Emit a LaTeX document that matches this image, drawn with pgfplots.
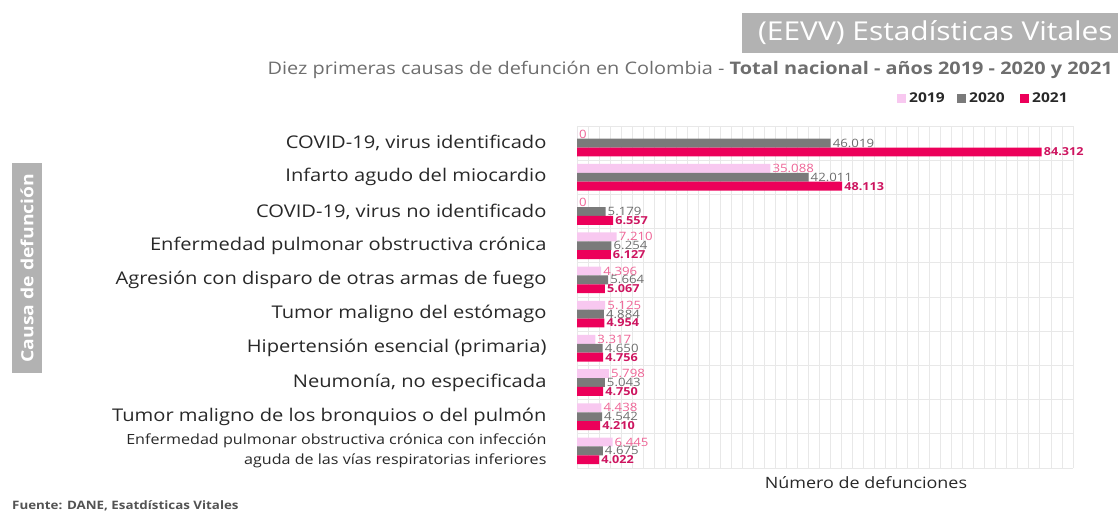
\documentclass[border=0pt]{standalone}
\usepackage{fontspec}
\setmainfont{Open Sans}[FakeStretch=1.15]
\usepackage{pgfplots}
\pgfplotsset{compat=1.18}
\definecolor{c19}{RGB}{248,200,240}
\definecolor{c20}{RGB}{122,122,122}
\definecolor{c21}{RGB}{236,0,90}
\definecolor{l19}{RGB}{238,100,150}
\definecolor{l20}{RGB}{110,110,110}
\definecolor{l21}{RGB}{205,20,95}
\definecolor{gridc}{RGB}{232,232,232}
\definecolor{boxc}{RGB}{178,178,178}
\definecolor{txt}{RGB}{40,40,40}
\definecolor{subc}{RGB}{110,110,110}
\begin{document}
\begin{tikzpicture}
\useasboundingbox (0,0) rectangle (1118pt,513pt);
\begin{axis}[
  at={(577pt,45pt)}, anchor=south west,
  width=496pt, height=342pt, scale only axis,
  xbar, bar width=0.26,
  xmin=0, xmax=90000, ymin=-0.5, ymax=9.5, y dir=reverse,
  axis line style={draw=none},
  scaled x ticks=false,
  xtick={0,2000,...,90000}, xticklabels={},
  xmajorgrids,
  ytick={0,...,9},
  yticklabels={
    {COVID-19, virus identificado},
    {Infarto agudo del miocardio},
    {COVID-19, virus no identificado},
    {Enfermedad pulmonar obstructiva crónica},
    {Agresión con disparo de otras armas de fuego},
    {Tumor maligno del estómago},
    {Hipertensión esencial (primaria)},
    {Neumonía, no especificada},
    {Tumor maligno de los bronquios o del pulmón},
    {\fontsize{14}{20}\selectfont Enfermedad pulmonar obstructiva crónica con infección\\\fontsize{14}{20}\selectfont aguda de las vías respiratorias inferiores}
  },
  yticklabel style={font=\fontsize{17.5}{20}\selectfont, text=txt, align=right, xshift=-27pt},
  extra y ticks={-0.5,0.5,...,9.5}, extra y tick labels={},
  extra y tick style={grid=major},
  major tick length=0,
  grid style={gridc, line width=0.9pt},
  point meta=x,
  nodes near coords={\pgfmathprintnumber[fixed, precision=0, 1000 sep={.}, assume math mode=true]{\pgfplotspointmeta}},
  every node near coord/.append style={anchor=west, inner xsep=2pt, font=\fontsize{11.5}{12}\selectfont},
]
\addplot+[draw=none, fill=c19, bar shift=-0.26, every node near coord/.append style={text=l19}]
  coordinates {(0,0) (35088,1) (0,2) (7210,3) (4396,4) (5125,5) (3317,6) (5798,7) (4438,8) (6445,9)};
\addplot+[draw=none, fill=c20, bar shift=0, every node near coord/.append style={text=l20}]
  coordinates {(46019,0) (42011,1) (5179,2) (6254,3) (5664,4) (4884,5) (4650,6) (5043,7) (4542,8) (4675,9)};
\addplot+[draw=none, fill=c21, bar shift=0.26, every node near coord/.append style={text=l21, font=\fontsize{11}{12}\selectfont\bfseries}]
  coordinates {(84312,0) (48113,1) (6557,2) (6127,3) (5067,4) (4954,5) (4756,6) (4750,7) (4210,8) (4022,9)};
\end{axis}
% title box
\fill[boxc] (742pt,500pt) rectangle (1118pt,460pt);
\node[anchor=east, text=white, font=\fontsize{26}{30}\selectfont, inner sep=0pt] at (1113pt,480pt) {(EEVV) Estadísticas Vitales};
% subtitle
\node[anchor=east, text=subc, font=\fontsize{17.3}{20}\selectfont, inner sep=0pt] at (1113pt,443pt) {Diez primeras causas de defunción en Colombia - \textbf{Total nacional - años 2019 - 2020 y 2021}};
% legend
\fill[c19] (897pt,410pt) rectangle (906pt,419pt);
\node[anchor=west, text=txt, font=\fontsize{13.5}{16}\selectfont\bfseries, inner sep=0pt] at (909pt,415pt) {2019};
\fill[c20] (957pt,410pt) rectangle (966pt,419pt);
\node[anchor=west, text=txt, font=\fontsize{13.5}{16}\selectfont\bfseries, inner sep=0pt] at (969pt,415pt) {2020};
\fill[c21] (1020pt,410pt) rectangle (1029pt,419pt);
\node[anchor=west, text=txt, font=\fontsize{13.5}{16}\selectfont\bfseries, inner sep=0pt] at (1032pt,415pt) {2021};
% y label box
\fill[boxc] (12pt,350pt) rectangle (42pt,140pt);
\node[rotate=90, text=white, font=\fontsize{16.8}{19}\selectfont\bfseries, inner sep=0pt] at (27pt,245pt) {Causa de defunción};
% x label
\node[text=txt, font=\fontsize{15.6}{19}\selectfont, inner sep=0pt] at (866pt,30pt) {Número de defunciones};
% source
\node[anchor=west, text=txt!80, font=\fontsize{11.6}{13}\selectfont\bfseries, inner sep=0pt] at (12pt,7pt) {Fuente: DANE, Esatdísticas Vitales};
\end{tikzpicture}
\end{document}
